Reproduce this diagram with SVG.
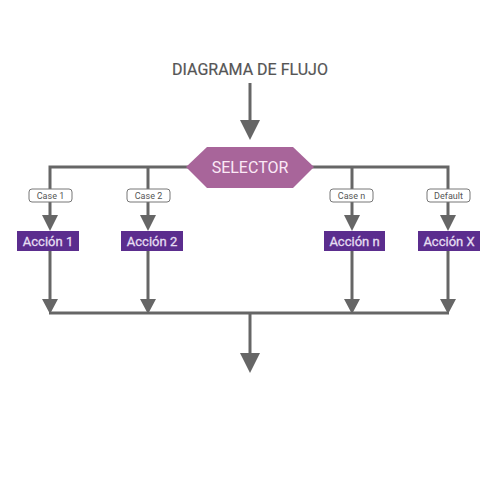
<svg xmlns="http://www.w3.org/2000/svg" width="500" height="500" viewBox="0 0 500 500">
<style>
.ln{stroke:#666;stroke-width:3;fill:none}
.ah{fill:#666}
.case rect{fill:#fff;stroke:#777;stroke-width:1}
.case text{font-family:Roboto,"Liberation Sans",sans-serif;font-size:9px;fill:#555;text-anchor:middle}
.act rect{fill:#5b2d8e}
.act text{font-family:Roboto,"Liberation Sans",sans-serif;font-size:13px;fill:#e6def2;stroke:#e6def2;stroke-width:0.3;text-anchor:middle}
</style>
<rect width="500" height="500" fill="#fff"/>
<g id="title"><text x="250" y="75" font-family="Roboto,'Liberation Sans',sans-serif" font-size="16" fill="#555" stroke="#555" stroke-width="0.2" text-anchor="middle">DIAGRAMA DE FLUJO</text></g>
<g id="connectors">
<line class="ln" x1="250" y1="83" x2="250" y2="122"/>
<polygon class="ah" points="240,120 260,120 250,140"/>
<polyline class="ln" points="50,216 50,167 448,167 448,216"/>
<line class="ln" x1="148" y1="167" x2="148" y2="216"/>
<line class="ln" x1="352" y1="167" x2="352" y2="216"/>
<polygon class="ah" points="42,215 58,215 50,231"/>
<polygon class="ah" points="140,215 156,215 148,231"/>
<polygon class="ah" points="344,215 360,215 352,231"/>
<polygon class="ah" points="440,215 456,215 448,231"/>
<line class="ln" x1="50" y1="251" x2="50" y2="300"/>
<line class="ln" x1="148" y1="251" x2="148" y2="300"/>
<line class="ln" x1="352" y1="251" x2="352" y2="300"/>
<line class="ln" x1="448" y1="251" x2="448" y2="300"/>
<polygon class="ah" points="42,299 58,299 50,314"/>
<polygon class="ah" points="140,299 156,299 148,314"/>
<polygon class="ah" points="344,299 360,299 352,314"/>
<polygon class="ah" points="440,299 456,299 448,314"/>
<line class="ln" x1="49" y1="313" x2="449" y2="313"/>
<line class="ln" x1="250" y1="313" x2="250" y2="355"/>
<polygon class="ah" points="240,353 260,353 250,373"/>
</g>
<g id="case1" class="case"><rect x="29" y="189" width="43" height="13" rx="3"/><text x="50.5" y="198.5">Case 1</text></g>
<g id="case2" class="case"><rect x="127" y="189" width="43" height="13" rx="3"/><text x="148.5" y="198.5">Case 2</text></g>
<g id="casen" class="case"><rect x="330" y="189" width="43" height="13" rx="3"/><text x="351.5" y="198.5">Case n</text></g>
<g id="default" class="case"><rect x="427" y="189" width="43" height="13" rx="3"/><text x="448.5" y="198.5">Default</text></g>
<g id="selector"><polygon points="186,167 207,147 293,147 314,167 293,188 207,188" fill="#a8659a"/><text x="250" y="173" font-family="Roboto,'Liberation Sans',sans-serif" font-size="16" fill="#fbe9f6" text-anchor="middle">SELECTOR</text></g>
<g id="accion1" class="act"><rect x="17" y="231" width="62" height="20"/><text x="48" y="245.5">Acción 1</text></g>
<g id="accion2" class="act"><rect x="121" y="231" width="62" height="20"/><text x="152" y="245.5">Acción 2</text></g>
<g id="accionn" class="act"><rect x="324" y="231" width="61" height="20"/><text x="354.5" y="245.5">Acción n</text></g>
<g id="accionx" class="act"><rect x="418" y="231" width="62" height="20"/><text x="449" y="245.5">Acción X</text></g>
</svg>
